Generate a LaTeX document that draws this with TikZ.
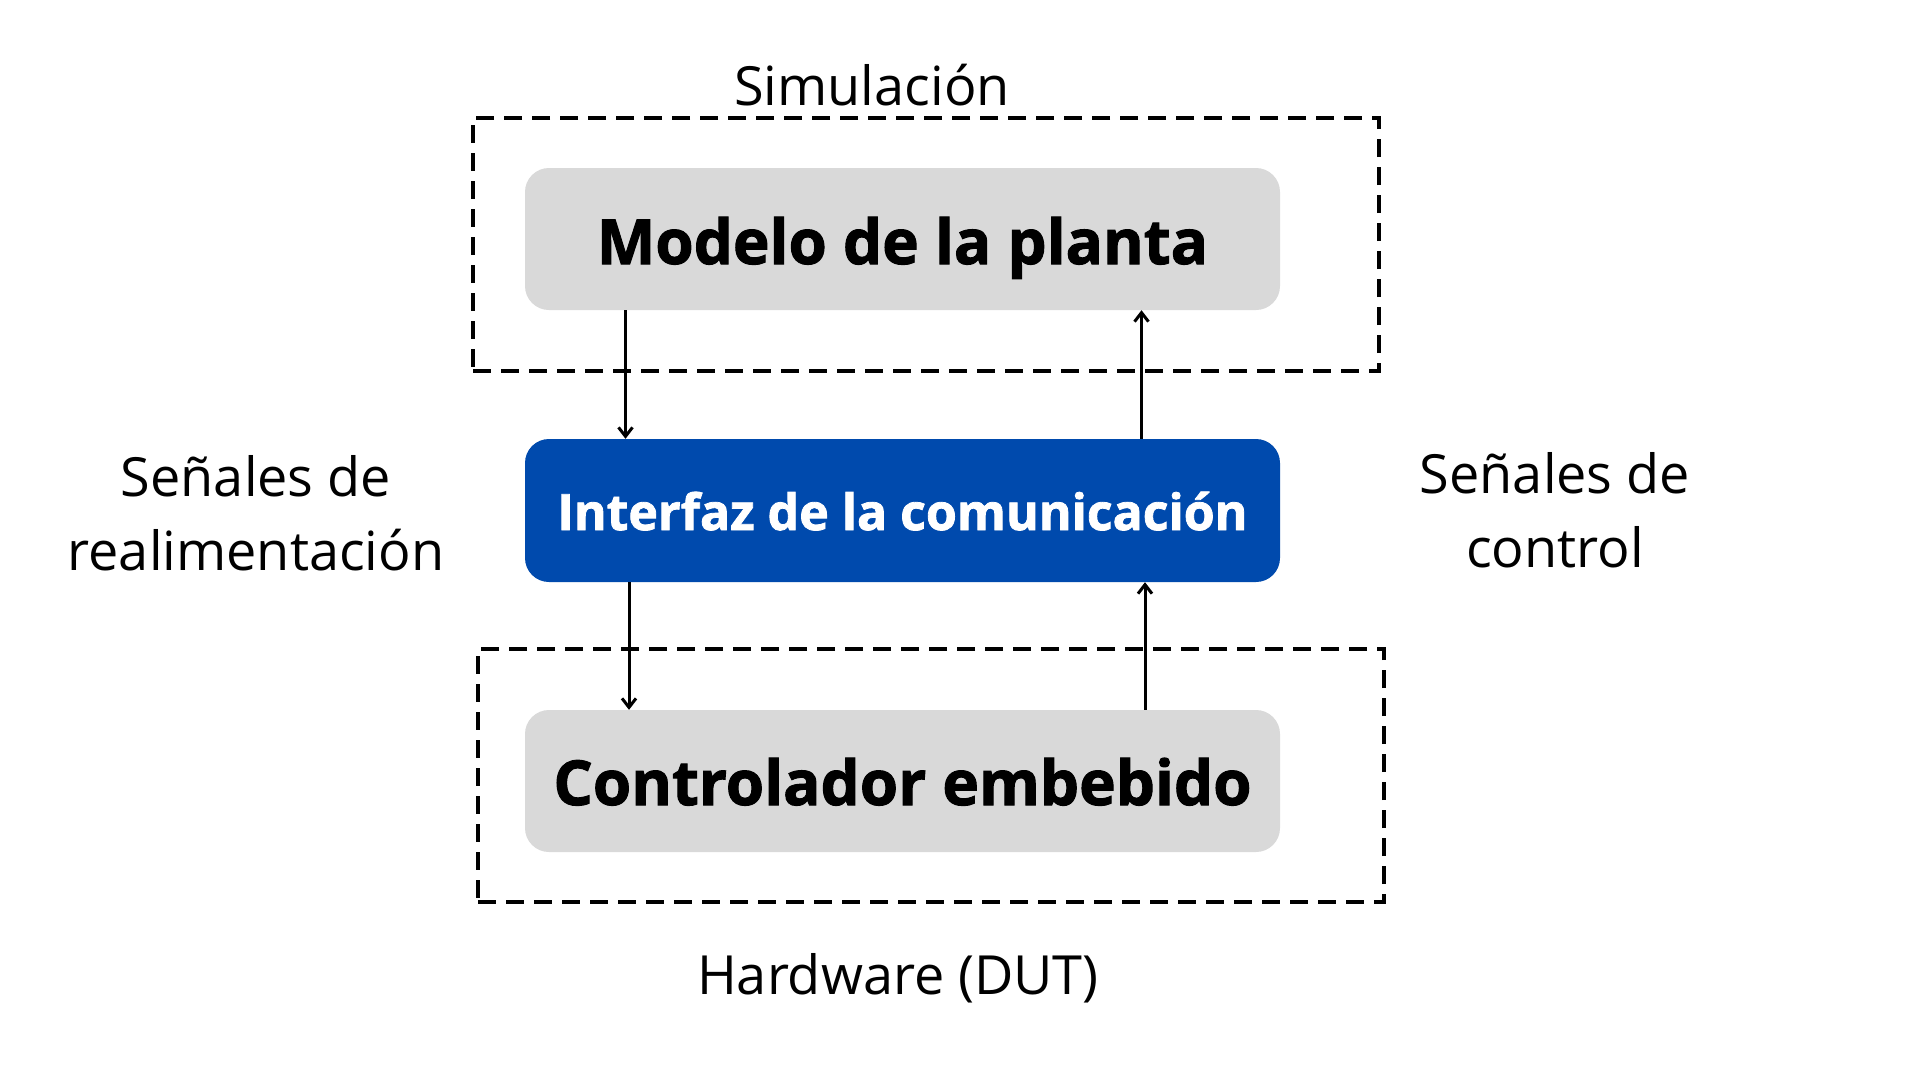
\documentclass[tikz,border=0pt]{standalone}
\usepackage{fontspec}
\setmainfont{Open Sans}
\newfontfamily\heavyfont{Open Sans}[FakeBold=1.6]
\usetikzlibrary{arrows.meta}
\definecolor{boxgray}{HTML}{D9D9D9}
\definecolor{boxblue}{HTML}{004AAD}
\tikzset{
  graybox/.style={fill=boxgray, rounded corners=24pt, minimum width=755pt, minimum height=142pt, inner sep=0pt, font=\heavyfont\fontsize{62}{72}\selectfont\bfseries},
  bluebox/.style={fill=boxblue, text=white, rounded corners=24pt, minimum width=755pt, minimum height=143pt, inner sep=0pt, font=\heavyfont\fontsize{50}{60}\selectfont\bfseries},
  dashbox/.style={draw=black, line width=4.5pt, dash pattern=on 18pt off 10pt, inner sep=0pt},
  lbl/.style={font=\fontsize{54}{74}\selectfont, align=center, inner sep=0pt},
  arr/.style={line width=3pt, -{Straight Barb[length=9pt,width=14pt,line width=3pt]}},
}
\begin{document}
\begin{tikzpicture}[x=1pt,y=-1pt]
\useasboundingbox[fill=white] (0,0) rectangle (1920,1080);
\node[dashbox, minimum width=906pt, minimum height=253pt] (simbox) at (926,244.5) {};
\node[dashbox, minimum width=906pt, minimum height=253pt] (hwbox) at (931,775.5) {};
\node[graybox, text height=60pt, text depth=10pt] (planta) at (902.5,239) {Modelo de la planta};
\node[bluebox, text height=45pt, text depth=6pt] (interfaz) at (902.5,510.5) {Interfaz de la comunicación};
\node[graybox, text height=58pt, text depth=10pt] (ctrl) at (902.5,781) {Controlador embebido};
\draw[arr] ([xshift=-277pt]planta.south) -- ([xshift=-277pt]interfaz.north);
\draw[arr] ([xshift=239pt]interfaz.north) -- ([xshift=239pt]planta.south);
\draw[arr] ([xshift=-273.5pt]interfaz.south) -- ([xshift=-273.5pt]ctrl.north);
\draw[arr] ([xshift=242.5pt]ctrl.north) -- ([xshift=242.5pt]interfaz.south);
\node[lbl, anchor=base] (simlbl) at (872,105) {Simulación};
\node[lbl, anchor=base] (hwlbl) at (898,994) {Hardware (DUT)};
\node[lbl, anchor=base] (fblbl) at (256,570) {Señales de\\realimentación};
\node[lbl, anchor=base] (ctllbl) at (1555,567) {Señales de\\control};
\end{tikzpicture}
\end{document}
